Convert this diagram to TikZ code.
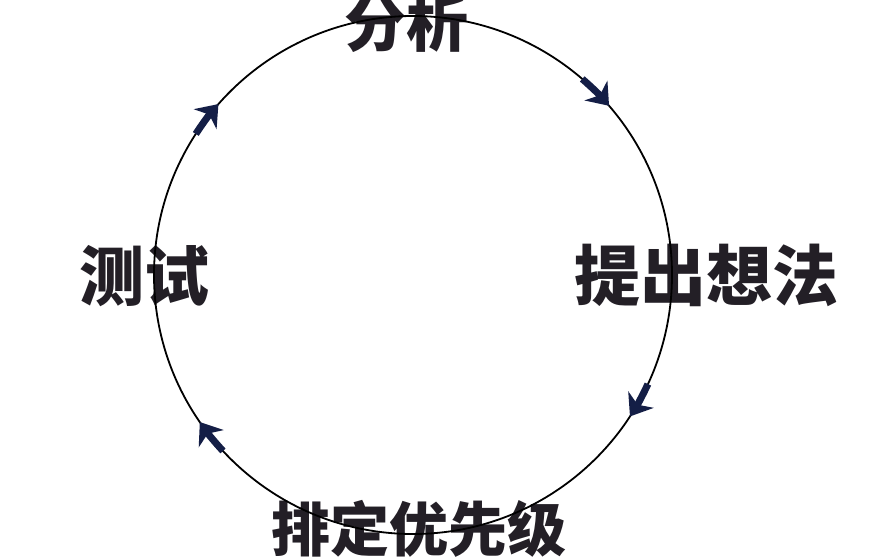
\documentclass[tikz,border=0pt]{standalone}
\usepackage{fontspec}
\newfontfamily\cjk{Noto Sans CJK SC}
\usetikzlibrary{arrows.meta}
\definecolor{txt}{RGB}{35,31,38}
\definecolor{arrowc}{RGB}{20,30,70}
\tikzset{
  lbl/.style={font=\cjk\bfseries, text=txt, inner sep=0pt, anchor=base},
  ring/.style={line width=1.8pt, draw=black},
  cyc/.style={line width=7pt, draw=arrowc, -{Stealth[length=20pt,width=30pt,inset=6pt]}}
}
\begin{document}
\begin{tikzpicture}[x=1pt,y=-1pt]
\useasboundingbox[fill=white] (0,0) rectangle (872,558);
\coordinate (c) at (413,275);
\node[lbl, font=\cjk\bfseries\fontsize{62}{62}\selectfont] (fenxi) at (406.5,46) {分析};
\node[lbl, font=\cjk\bfseries\fontsize{66}{66}\selectfont] (tichu) at (706,300) {提出想法};
\node[lbl, font=\cjk\bfseries\fontsize{65}{65}\selectfont] (ceshi) at (144.5,300) {测试};
\node[lbl, font=\cjk\bfseries\fontsize{59}{59}\selectfont] (paiding) at (419,551) {排定优先级};
\draw[ring] (c) circle[radius=259];
\draw[cyc] (c) ++(-49.2:259) arc[start angle=-49.2, end angle=-40.8, radius=259];
\draw[cyc] (c) ++(24.9:259) arc[start angle=24.9, end angle=33.1, radius=259];
\draw[cyc] (c) ++(137.2:259) arc[start angle=137.2, end angle=145.4, radius=259];
\draw[cyc] (c) ++(213.0:259) arc[start angle=213.0, end angle=221.3, radius=259];
\end{tikzpicture}
\end{document}
